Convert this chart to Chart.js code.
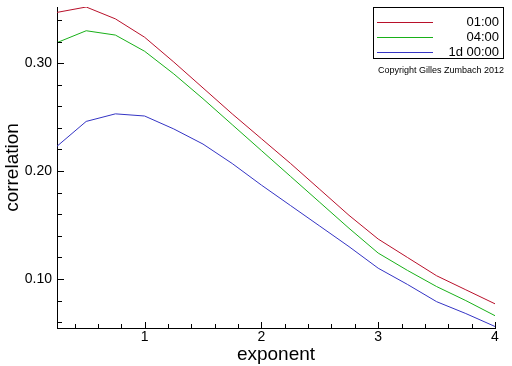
<!DOCTYPE html>
<html>
<head>
<meta charset="utf-8">
<script src="https://cdn.jsdelivr.net/npm/chart.js@4/dist/chart.umd.min.js"></script>
<style>
  html, body { margin: 0; padding: 0; background: #fff; }
  #wrap { width: 512px; height: 366px; }
</style>
</head>
<body>
<div id="wrap"><canvas id="corrChart" width="512" height="366"></canvas></div>
<script>
var exponents = [0.25, 0.5, 0.75, 1, 1.25, 1.5, 1.75, 2, 2.25, 2.5, 2.75, 3, 3.25, 3.5, 3.75, 4];
var corr1h = [0.347, 0.352, 0.341, 0.324, 0.301, 0.277, 0.253, 0.230, 0.207, 0.183, 0.159, 0.137, 0.120, 0.103, 0.090, 0.077];
var corr4h = [0.319, 0.330, 0.326, 0.311, 0.290, 0.267, 0.243, 0.219, 0.195, 0.171, 0.147, 0.124, 0.108, 0.093, 0.080, 0.066];
var corr1d = [0.223, 0.246, 0.253, 0.251, 0.239, 0.225, 0.207, 0.187, 0.168, 0.149, 0.130, 0.110, 0.095, 0.079, 0.068, 0.056];
var seriesLabels = ['01:00', '04:00', '1d 00:00'];
var seriesColors = ['#b8102a', '#18b018', '#3434c4'];
var xTicks = [1, 2, 3, 4];
var yTicks = [0.10, 0.20, 0.30];

function pts(ys) {
    return exponents.map(function (x, i) { return { x: x, y: ys[i] }; });
}

// ticks pointing into the plot, major + minor
var innerTicks = {
    id: 'innerTicks',
    afterDatasetsDraw: function (chart) {
        var ctx = chart.ctx, a = chart.chartArea;
        var xs = chart.scales.x, ys = chart.scales.y;
        ctx.save();
        ctx.strokeStyle = '#000';
        ctx.lineWidth = 1;
        ctx.beginPath();
        for (var v = 0.4; v <= 4.001; v += 0.2) {
            var px = Math.round(xs.getPixelForValue(v)) + 0.5;
            var len = Math.abs(v - Math.round(v)) < 0.01 ? 6 : 4;
            ctx.moveTo(px, a.bottom);
            ctx.lineTo(px, a.bottom - len);
        }
        for (var w = 0.06; w <= 0.35; w += 0.02) {
            var py = Math.round(ys.getPixelForValue(w)) + 0.5;
            var major = Math.abs(w * 10 - Math.round(w * 10)) < 0.01;
            ctx.moveTo(a.left, py);
            ctx.lineTo(a.left + (major ? 7 : 5), py);
        }
        ctx.stroke();
        ctx.restore();
    }
};

// boxed legend in the upper right plus copyright note
var boxLegend = {
    id: 'boxLegend',
    afterDraw: function (chart) {
        var ctx = chart.ctx;
        ctx.save();
        ctx.strokeStyle = '#000';
        ctx.lineWidth = 1;
        ctx.strokeRect(373.5, 7.5, 130, 51);
        ctx.font = '13px "Liberation Sans", Arial, sans-serif';
        ctx.textAlign = 'right';
        ctx.textBaseline = 'middle';
        for (var i = 0; i < seriesLabels.length; i++) {
            var y = 22.5 + i * 15;
            ctx.strokeStyle = seriesColors[i];
            ctx.beginPath();
            ctx.moveTo(377, y);
            ctx.lineTo(433, y);
            ctx.stroke();
            ctx.fillStyle = '#000';
            ctx.fillText(seriesLabels[i], 499, y);
        }
        ctx.font = '9px "Liberation Sans", Arial, sans-serif';
        ctx.textAlign = 'left';
        ctx.fillText('Copyright Gilles Zumbach 2012', 378, 71);
        ctx.restore();
    }
};

var fontFam = '"Liberation Sans", Arial, sans-serif';
var ctx = document.getElementById('corrChart').getContext('2d');
new Chart(ctx, {
    type: 'line',
    data: {
        datasets: [0, 1, 2].map(function (i) {
            return {
                label: seriesLabels[i],
                data: pts([corr1h, corr4h, corr1d][i]),
                borderColor: seriesColors[i],
                borderWidth: 1,
                pointRadius: 0,
                tension: 0,
                fill: false
            };
        })
    },
    options: {
        responsive: false,
        animation: false,
        layout: { padding: { top: 7, right: 17, left: 0, bottom: 0 } },
        plugins: { legend: { display: false }, tooltip: { enabled: false } },
        scales: {
            x: {
                type: 'linear',
                min: 0.25,
                max: 4,
                afterBuildTicks: function (s) { s.ticks = xTicks.map(function (v) { return { value: v }; }); },
                afterFit: function (s) { s.height = 38; s.paddingLeft = 0; s.paddingRight = 0; },
                grid: { display: false, tickLength: 0 },
                border: { display: true, color: '#000', width: 1 },
                ticks: { color: '#000', padding: 1, maxRotation: 0, font: { family: fontFam, size: 14 } },
                title: { display: true, text: 'exponent', color: '#000', padding: 0, font: { family: fontFam, size: 19 } }
            },
            y: {
                type: 'linear',
                min: 0.0546,
                max: 0.352,
                afterBuildTicks: function (s) { s.ticks = yTicks.map(function (v) { return { value: v }; }); },
                afterFit: function (s) { s.width = 57; s.paddingTop = 0; s.paddingBottom = 0; },
                grid: { display: false, tickLength: 0 },
                border: { display: true, color: '#000', width: 1 },
                ticks: {
                    color: '#000', padding: 5,
                    font: { family: fontFam, size: 14 },
                    callback: function (v) { return v.toFixed(2); }
                },
                title: { display: true, text: 'correlation', color: '#000', padding: 1, font: { family: fontFam, size: 19 } }
            }
        }
    },
    plugins: [innerTicks, boxLegend]
});
</script>
</body>
</html>
